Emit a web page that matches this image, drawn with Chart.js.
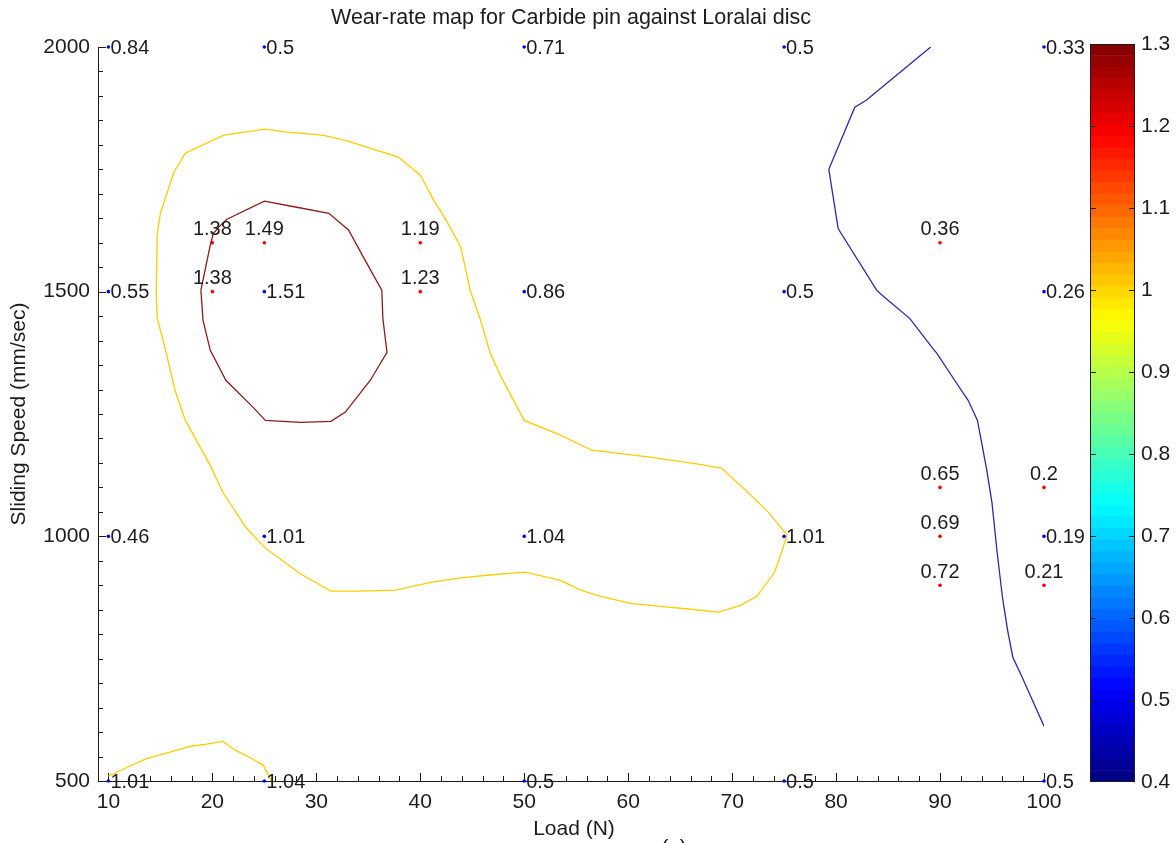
<!DOCTYPE html>
<html>
<head>
<meta charset="utf-8">
<title>Wear-rate map</title>
<script src="https://cdn.jsdelivr.net/npm/chart.js@4.4.1/dist/chart.umd.min.js"></script>
<style>
  html, body { margin: 0; padding: 0; background: #ffffff; }
  #wrap { position: relative; width: 1176px; height: 843px; overflow: hidden; background: #ffffff; }
  #map { position: absolute; left: 0; top: 0; }
  #bar { position: absolute; left: 1088px; top: 0; }
</style>
</head>
<body>
<div id="wrap">
  <canvas id="map" width="1176" height="843"></canvas>
  <canvas id="bar" width="88" height="843"></canvas>
</div>
<script>
// ---- text ----
const chartTitle = 'Wear-rate map for Carbide pin against Loralai disc';
const xTitle = 'Load (N)';
const yTitle = 'Sliding Speed (mm/sec)';
const captionText = '(a)';

// ---- axis ticks ----
const loadTicks = [10, 20, 30, 40, 50, 60, 70, 80, 90, 100];
const speedTicks = [500, 1000, 1500, 2000];
const scaleTicks = [0.4, 0.5, 0.6, 0.7, 0.8, 0.9, 1.0, 1.1, 1.2, 1.3];

// ---- wear rate on the test grid (rows = sliding speed, columns = load) ----
const gridLoads = [10, 25, 50, 75, 100];
const gridSpeeds = [2000, 1500, 1000, 500];
const gridWear = [
  [0.84, 0.5, 0.71, 0.5, 0.33],
  [0.55, 1.51, 0.86, 0.5, 0.26],
  [0.46, 1.01, 1.04, 1.01, 0.19],
  [1.01, 1.04, 0.5, 0.5, 0.5]
];

// ---- additional test points ----
const extraLoads  = [20, 25, 40, 20, 40, 90, 90, 100, 90, 90, 100];
const extraSpeeds = [1600, 1600, 1600, 1500, 1500, 1600, 1100, 1100, 1000, 900, 900];
const extraWear   = [1.38, 1.49, 1.19, 1.38, 1.23, 0.36, 0.65, 0.2, 0.69, 0.72, 0.21];

// ---- iso-wear contour lines [load, speed] ----
const contourHigh = [
  [18.9, 1503], [19.3, 1544], [19.8, 1595], [20.1, 1619], [20.8, 1636], [21.4, 1648],
  [25.0, 1685], [28.0, 1673], [31.2, 1660], [33.1, 1626], [34.7, 1564], [36.3, 1503],
  [36.4, 1446], [36.8, 1376], [35.2, 1319], [32.8, 1254], [31.4, 1235], [28.5, 1233],
  [25.1, 1237], [23.9, 1264], [21.3, 1319], [19.8, 1380], [19.1, 1442], [18.9, 1503]
];
const contourMid = [
  [14.6, 1497], [14.7, 1619], [15.0, 1660], [16.3, 1744], [17.4, 1783], [21.1, 1820],
  [25.1, 1832], [27.2, 1826], [30.6, 1820], [32.8, 1809], [37.9, 1775], [40.0, 1738],
  [41.3, 1687], [42.6, 1642], [43.9, 1591], [44.8, 1503], [45.8, 1442], [46.7, 1376],
  [47.7, 1329], [50.0, 1237], [53.5, 1207], [56.5, 1176], [62.1, 1162], [66.9, 1147],
  [69.0, 1139], [71.3, 1094], [73.5, 1049], [75.3, 1002], [74.1, 927], [72.4, 878],
  [70.8, 859], [68.7, 845], [66.0, 851], [63.1, 857], [60.2, 863], [57.3, 878],
  [55.4, 890], [53.5, 910], [50.1, 927], [46.7, 921], [43.9, 915], [41.0, 906],
  [37.6, 890], [34.2, 888], [31.4, 888], [28.5, 923], [25.1, 976], [23.2, 1019],
  [21.0, 1090], [19.8, 1145], [17.4, 1237], [16.4, 1299], [15.5, 1380], [14.7, 1446],
  [14.6, 1497]
];
const contourMidCorner = [
  [10.0, 510], [11.2, 522], [13.6, 545], [16.6, 563], [17.9, 571], [19.3, 575],
  [21.0, 581], [22.2, 563], [23.7, 547], [24.9, 532], [25.7, 500]
];
const contourLow = [
  [89.1, 2000], [82.9, 1891], [81.8, 1877], [79.3, 1750], [80.2, 1629], [80.4, 1622],
  [83.9, 1503], [84.4, 1493], [87.1, 1445], [89.3, 1384], [89.7, 1374], [91.4, 1319],
  [92.7, 1278], [93.6, 1237], [94.5, 1135], [95.0, 1068], [95.5, 966], [96.0, 876],
  [96.5, 808], [97.0, 753], [97.9, 712], [99.1, 655], [100, 612]
];

// ---- styling ----
const FONT = "'Liberation Sans', Arial, Helvetica, sans-serif";
const INK = '#1c1c1c';
const COLOR_HIGH = '#8e1b1b';
const COLOR_MID = '#ffcc00';
const COLOR_LOW = '#2a2aa6';

const toXY = pts => pts.map(p => ({ x: p[0], y: p[1] }));
const fmt = v => String(+v.toFixed(2));

const gridPoints = [];
const gridText = [];
gridSpeeds.forEach((s, r) => gridLoads.forEach((l, c) => {
  gridPoints.push({ x: l, y: s });
  gridText.push(fmt(gridWear[r][c]));
}));
const extraPoints = extraLoads.map((l, i) => ({ x: l, y: extraSpeeds[i] }));
const extraText = extraWear.map(fmt);

function contourSet(pts, color) {
  return {
    type: 'line', data: toXY(pts), borderColor: color, borderWidth: 1.3,
    pointRadius: 0, tension: 0, fill: false, showLine: true
  };
}

// inward tick marks on the two axes
const axisTicks = {
  id: 'axisTicks',
  beforeDatasetsDraw(chart) {
    const { ctx, chartArea: a, scales: { x, y } } = chart;
    ctx.save();
    ctx.strokeStyle = INK;
    ctx.lineWidth = 1;
    ctx.beginPath();
    for (let v = 10; v <= 100; v += 2) {
      const px = Math.round(x.getPixelForValue(v)) + 0.5;
      const len = v % 10 === 0 ? 8 : 5;
      ctx.moveTo(px, a.bottom);
      ctx.lineTo(px, a.bottom - len);
    }
    for (let v = 500; v <= 2000; v += 50) {
      const py = Math.round(y.getPixelForValue(v)) + 0.5;
      const len = v % 500 === 0 ? 8 : 5;
      ctx.moveTo(a.left, py);
      ctx.lineTo(a.left + len, py);
    }
    ctx.stroke();
    ctx.restore();
  }
};

// value text beside each measured point
const valueLabels = {
  id: 'valueLabels',
  afterDatasetsDraw(chart) {
    const ctx = chart.ctx;
    ctx.save();
    ctx.font = `20px ${FONT}`;
    ctx.fillStyle = INK;
    ctx.textBaseline = 'middle';
    chart.data.datasets.forEach((ds, i) => {
      if (!ds.valueText) return;
      chart.getDatasetMeta(i).data.forEach((pt, j) => {
        const t = ds.valueText[j];
        if (ds.labelSide === 'right') {
          ctx.textAlign = 'left';
          ctx.fillText(t, pt.x + 2, pt.y + 1);
        } else {
          ctx.textAlign = 'center';
          ctx.fillText(t, pt.x, pt.y - 13);
        }
      });
    });
    ctx.restore();
  }
};

// title and axis titles
const captions = {
  id: 'captions',
  afterDraw(chart) {
    const { ctx, chartArea: a } = chart;
    const cx = (a.left + a.right) / 2;
    ctx.save();
    ctx.fillStyle = INK;
    ctx.textAlign = 'center';
    ctx.textBaseline = 'middle';
    ctx.font = `21.5px ${FONT}`;
    ctx.fillText(chartTitle, cx, 18);
    ctx.font = `21px ${FONT}`;
    ctx.fillText(xTitle, cx + 3, 829);
    ctx.textBaseline = 'top';
    ctx.fillText(captionText, cx + 103, 838);
    ctx.textBaseline = 'middle';
    ctx.translate(19, (a.top + a.bottom) / 2);
    ctx.rotate(-Math.PI / 2);
    ctx.fillText(yTitle, 0, 0);
    ctx.restore();
  }
};

new Chart(document.getElementById('map'), {
  type: 'scatter',
  data: {
    datasets: [
      contourSet(contourMid, COLOR_MID),
      contourSet(contourMidCorner, COLOR_MID),
      contourSet(contourHigh, COLOR_HIGH),
      contourSet(contourLow, COLOR_LOW),
      {
        data: gridPoints, valueText: gridText, labelSide: 'right',
        pointRadius: 1.8, pointBorderWidth: 0, backgroundColor: '#0000ff', clip: false
      },
      {
        data: extraPoints, valueText: extraText, labelSide: 'above',
        pointRadius: 1.8, pointBorderWidth: 0, backgroundColor: '#ff0000', clip: false
      }
    ]
  },
  options: {
    responsive: false,
    animation: false,
    events: [],
    layout: { padding: { left: 0, top: 47, right: 132, bottom: 0 } },
    plugins: { legend: { display: false }, tooltip: { enabled: false } },
    scales: {
      x: {
        type: 'linear', min: 9, max: 100,
        afterBuildTicks: s => { s.ticks = loadTicks.map(v => ({ value: v })); },
        afterFit: s => { s.height = 62; },
        grid: { display: false, drawTicks: false },
        border: { display: true, color: INK, width: 1 },
        ticks: { padding: 9, color: INK, maxRotation: 0, autoSkip: false,
                 font: { family: FONT, size: 21 }, callback: v => String(v) }
      },
      y: {
        type: 'linear', min: 500, max: 2000,
        afterBuildTicks: s => { s.ticks = speedTicks.map(v => ({ value: v })); },
        afterFit: s => { s.width = 98; },
        grid: { display: false, drawTicks: false },
        border: { display: true, color: INK, width: 1 },
        ticks: { padding: 8, color: INK, autoSkip: false,
                 font: { family: FONT, size: 21 }, callback: v => String(v) }
      }
    }
  },
  plugins: [axisTicks, valueLabels, captions]
});

// ---- colour scale ----
const scaleMin = scaleTicks[0];
const scaleMax = scaleTicks[scaleTicks.length - 1];
const bandCount = 64;
function jet(t) {
  const c = v => Math.round(255 * Math.max(0, Math.min(1, v)));
  return `rgb(${c(1.5 - Math.abs(4 * t - 3))},${c(1.5 - Math.abs(4 * t - 2))},${c(1.5 - Math.abs(4 * t - 1))})`;
}
const bandSets = [];
for (let i = 0; i < bandCount; i++) {
  const lo = scaleMin + (scaleMax - scaleMin) * i / bandCount;
  const hi = scaleMin + (scaleMax - scaleMin) * (i + 1) / bandCount;
  bandSets.push({
    data: [[lo, hi]], backgroundColor: jet((i + 0.5) / bandCount),
    borderWidth: 0, borderSkipped: false, barPercentage: 1, categoryPercentage: 1, grouped: false
  });
}

const barFrame = {
  id: 'barFrame',
  afterDraw(chart) {
    const { ctx, chartArea: a, scales: { y } } = chart;
    ctx.save();
    ctx.strokeStyle = INK;
    ctx.lineWidth = 1;
    ctx.strokeRect(Math.round(a.left) + 0.5, Math.round(a.top) + 0.5,
                   Math.round(a.right - a.left) - 1, Math.round(a.bottom - a.top) - 1);
    ctx.beginPath();
    scaleTicks.slice(1, -1).forEach(v => {
      const py = Math.round(y.getPixelForValue(v)) + 0.5;
      ctx.moveTo(a.left, py); ctx.lineTo(a.left + 6, py);
      ctx.moveTo(a.right, py); ctx.lineTo(a.right - 6, py);
    });
    ctx.stroke();
    ctx.restore();
  }
};

new Chart(document.getElementById('bar'), {
  type: 'bar',
  data: { labels: [''], datasets: bandSets },
  options: {
    responsive: false,
    animation: false,
    events: [],
    layout: { padding: { left: 2, top: 44, right: 0, bottom: 61 } },
    plugins: { legend: { display: false }, tooltip: { enabled: false } },
    scales: {
      x: { display: false },
      y: {
        position: 'right', min: scaleMin, max: scaleMax,
        afterBuildTicks: s => { s.ticks = scaleTicks.map(v => ({ value: v })); },
        afterFit: s => { s.width = 41; },
        grid: { display: false, drawTicks: false },
        border: { display: false },
        ticks: { padding: 6, color: INK, autoSkip: false,
                 font: { family: FONT, size: 21 }, callback: v => fmt(v) }
      }
    }
  },
  plugins: [barFrame]
});
</script>
</body>
</html>
